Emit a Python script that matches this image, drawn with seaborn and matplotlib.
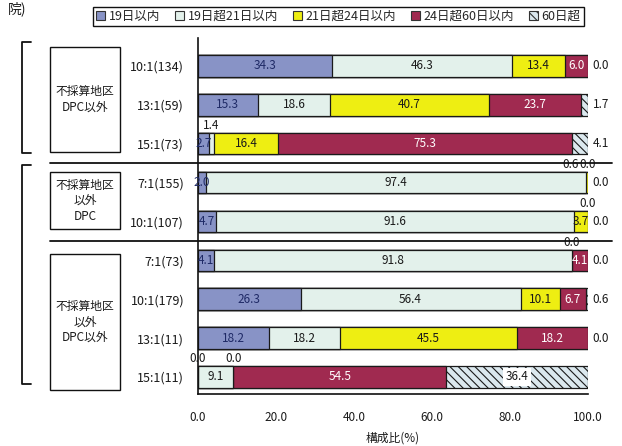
import matplotlib
matplotlib.use("Agg")
import matplotlib.pyplot as plt
import pandas as pd
import seaborn as sns
from matplotlib.patches import Patch, Rectangle
from matplotlib.lines import Line2D
from matplotlib.transforms import blended_transform_factory

# 入院期間別の構成比（%）
rows = ["10:1(134)", "13:1(59)", "15:1(73)",
        "7:1(155)", "10:1(107)",
        "7:1(73)", "10:1(179)", "13:1(11)", "15:1(11)"]
group_names = ["不採算地区\nDPC以外", "不採算地区\n以外\nDPC", "不採算地区\n以外\nDPC以外"]
group_sizes = [3, 2, 4]
series_names = ["19日以内", "19日超21日以内", "21日超24日以内", "24日超60日以内", "60日超"]
le19 = [34.3, 15.3, 2.7, 2.0, 4.7, 4.1, 26.3, 18.2, 0.0]
d19_21 = [46.3, 18.6, 1.4, 97.4, 91.6, 91.8, 56.4, 18.2, 9.1]
d21_24 = [13.4, 40.7, 16.4, 0.6, 3.7, 0.0, 10.1, 45.5, 0.0]
d24_60 = [6.0, 23.7, 75.3, 0.0, 0.0, 4.1, 6.7, 18.2, 54.5]
gt60 = [0.0, 1.7, 4.1, 0.0, 0.0, 0.0, 0.6, 0.0, 36.4]
tick_values = [0, 20, 40, 60, 80, 100]
x_label = "構成比(%)"

sns.set_style("white")
plt.rcParams["font.family"] = ["Noto Sans CJK JP", "DejaVu Sans"]
plt.rcParams["hatch.linewidth"] = 0.8

fig = plt.figure(figsize=(6.22, 4.46), dpi=100)
ax = fig.add_axes([198 / 622, 52 / 446, 390 / 622, 356 / 446])

series = [le19, d19_21, d21_24, d24_60, gt60]
df = pd.DataFrame({n: v for n, v in zip(series_names, series)}, index=rows)
cum = df.cumsum(axis=1)

colors = ["#8893c6", "#e3f1eb", "#eeee12", "#a02a50", "#dbe8ee"]
text_colors = ["#1f2a66", "#1a1a1a", "#1a1a1a", "#ffffff", "#1a1a1a"]
hatches = [None, None, None, None, "\\\\\\\\"]
bar_h = 0.55

# stacked bars: draw cumulative totals from the last band backwards
for i in reversed(range(len(series_names))):
    layer = pd.DataFrame({"row": rows, "cum": cum.iloc[:, i].values})
    sns.barplot(data=layer, x="cum", y="row", order=rows, orient="h",
                color=colors[i], saturation=1, width=bar_h,
                edgecolor="#1a1a1a", linewidth=0.9, hatch=hatches[i],
                errorbar=None, ax=ax)

# value labels
fs = 8.5
for r in range(len(rows)):
    above = []
    for i in range(len(series_names)):
        v = df.iloc[r, i]
        end = cum.iloc[r, i]
        start = end - v
        txt = f"{v:.1f}"
        if i == len(series_names) - 1 and v < 10:
            ax.text(101.2, r, txt, ha="left", va="center", fontsize=fs,
                    color="#1a1a1a", clip_on=False)
        elif v < 2:
            above.append([start + v / 2, txt])
        else:
            kw = {}
            if hatches[i]:
                kw["bbox"] = dict(facecolor="white", edgecolor="none", pad=2)
            ax.text(start + v / 2, r, txt, ha="center", va="center",
                    fontsize=fs, color=text_colors[i], clip_on=False, **kw)
    for k in range(len(above) - 2, -1, -1):
        if above[k + 1][0] - above[k][0] < 4.5:
            above[k][0] = above[k + 1][0] - 4.5
    for xpos, txt in above:
        ax.text(xpos, r - bar_h / 2 - 0.02, txt, ha="center", va="bottom",
                fontsize=fs, color="#1a1a1a", clip_on=False)

# axes styling
ax.set_xlim(0, 100)
ax.set_ylim(8.44, -0.72)
ax.set_xticks(tick_values, labels=[f"{t:.1f}" for t in tick_values])
ax.tick_params(axis="x", direction="in", length=5, width=1, pad=12,
               labelsize=8.5, colors="#1a1a1a")
ax.tick_params(axis="y", length=0, pad=10, labelsize=9, colors="#1a1a1a")
for side in ["top", "right"]:
    ax.spines[side].set_visible(False)
for side in ["left", "bottom"]:
    ax.spines[side].set_color("#111111")
    ax.spines[side].set_linewidth(1.2)
ax.set_xlabel(x_label, fontsize=8.5, labelpad=6, color="#1a1a1a")
ax.set_ylabel("")

# group separators, boxes and brackets
trans = blended_transform_factory(fig.transFigure, ax.transData)
bounds = []
start = 0
for n in group_sizes:
    bounds.append((start, start + n - 1))
    start += n
for (a, b) in bounds[:-1]:
    fig.add_artist(Line2D([50 / 622, 612 / 622], [b + 0.5, b + 0.5],
                          transform=trans, color="#111111", lw=1.3))

box_pad = [(0.49, 0.22), (0.26, 0.19), (0.15, 0.33)]
for (a, b), name, (pt, pb) in zip(bounds, group_names, box_pad):
    top, bottom = a - pt, b + pb
    fig.add_artist(Rectangle((50 / 622, top), 70 / 622, bottom - top,
                             transform=trans, fill=False,
                             edgecolor="#111111", lw=1))
    fig.text(85 / 622, (top + bottom) / 2, name, transform=trans,
             ha="center", va="center", fontsize=8.5, linespacing=1.25,
             color="#1a1a1a")

for top, bottom in [(-0.62, 2.23), (2.54, 8.18)]:
    fig.add_artist(Line2D([31 / 622, 22 / 622, 22 / 622, 31 / 622],
                          [top, top, bottom, bottom],
                          transform=trans, color="#111111", lw=1.3))

# legend
handles = [Patch(facecolor=c, edgecolor="#333333", hatch=h, lw=0.8)
           for c, h in zip(colors, hatches)]
leg = fig.legend(handles, series_names, loc="upper left",
                 bbox_to_anchor=(93 / 622, 1 - 7 / 446), ncol=5,
                 frameon=True, fancybox=False, framealpha=1,
                 edgecolor="#111111", fontsize=9, handlelength=0.7,
                 handleheight=0.7, handletextpad=0.3, columnspacing=1.2,
                 borderpad=0.25, borderaxespad=0)
leg.get_frame().set_linewidth(1.0)

fig.text(8 / 622, 1 - 1 / 446, "院)", ha="left", va="top", fontsize=10,
         color="#1a1a1a")

fig.savefig("out.png", dpi=100, facecolor="white")
